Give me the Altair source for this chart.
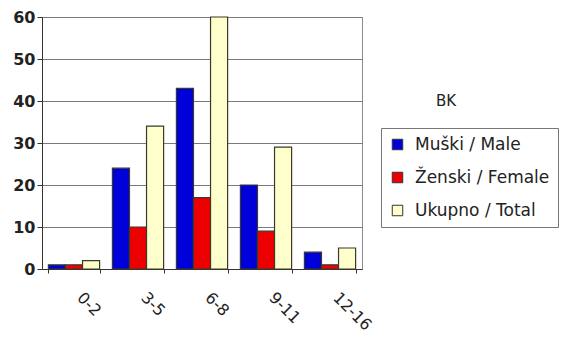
import altair as alt
import pandas as pd

# Age groups and counts per series
age_groups = ["0-2", "3-5", "6-8", "9-11", "12-16"]
male = [1, 24, 43, 20, 4]
female = [1, 10, 17, 9, 1]
total = [2, 34, 60, 29, 5]

series_names = ["Muški / Male", "Ženski / Female", "Ukupno / Total"]
series_colors = ["#0000d8", "#ee0000", "#ffffcc"]

rows = []
for name, values in zip(series_names, [male, female, total]):
    for grp, v in zip(age_groups, values):
        rows.append({"grupa": grp, "serija": name, "broj": v})
df = pd.DataFrame(rows)

FONT = "DejaVu Sans"

bars = alt.Chart(df).mark_bar(stroke="#3a3a2a", strokeWidth=1.2).encode(
    x=alt.X(
        "grupa:N",
        sort=age_groups,
        title=None,
        scale=alt.Scale(paddingInner=0.2, paddingOuter=0.1),
        axis=alt.Axis(
            labelAngle=45,
            labelAlign="left",
            labelBaseline="top",
            labelPadding=16,
            labelOffset=11,
            labelFont=FONT,
            labelFontSize=16,
            labelColor="#222222",
            tickBand="extent",
            tickSize=4,
            tickColor="#333333",
            domainColor="#333333",
            grid=False,
        ),
    ),
    xOffset=alt.XOffset("serija:N", sort=series_names),
    y=alt.Y(
        "broj:Q",
        title=None,
        scale=alt.Scale(domain=[0, 60], nice=False),
        axis=alt.Axis(
            values=[0, 10, 20, 30, 40, 50, 60],
            labelFont=FONT,
            labelFontSize=16,
            labelFontWeight="bold",
            labelColor="#222222",
            labelPadding=2,
            tickSize=5,
            tickColor="#333333",
            domainColor="#333333",
            gridColor="#7a7a7a",
            gridWidth=1,
        ),
    ),
    color=alt.Color(
        "serija:N",
        sort=series_names,
        scale=alt.Scale(domain=series_names, range=series_colors),
        legend=alt.Legend(
            title=None,
            orient="none",
            legendX=339,
            legendY=111,
            padding=8,
            strokeColor="#777777",
            fillColor="#ffffff",
            symbolType="square",
            symbolSize=110,
            symbolStrokeColor="#333333",
            symbolStrokeWidth=1,
            labelFont=FONT,
            labelFontSize=17,
            labelColor="#222222",
            labelLimit=300,
            rowPadding=15,
            labelOffset=9,
        ),
    ),
)

heading = alt.Chart(pd.DataFrame({"t": ["BK"]})).mark_text(
    font=FONT, fontSize=15, color="#222222", align="center", baseline="middle"
).encode(text="t:N", x=alt.value(404), y=alt.value(84))

chart = (
    alt.layer(bars, heading)
    .properties(
        width=320,
        height=252,
        autosize=alt.AutoSizeParams(type="none"),
        padding={"left": 42, "top": 17, "right": 217, "bottom": 72},
    )
    .configure_view(stroke="#8a8a8a", strokeWidth=1)
)

chart.save("out.html", embed_options={"renderer": "svg", "actions": False})
